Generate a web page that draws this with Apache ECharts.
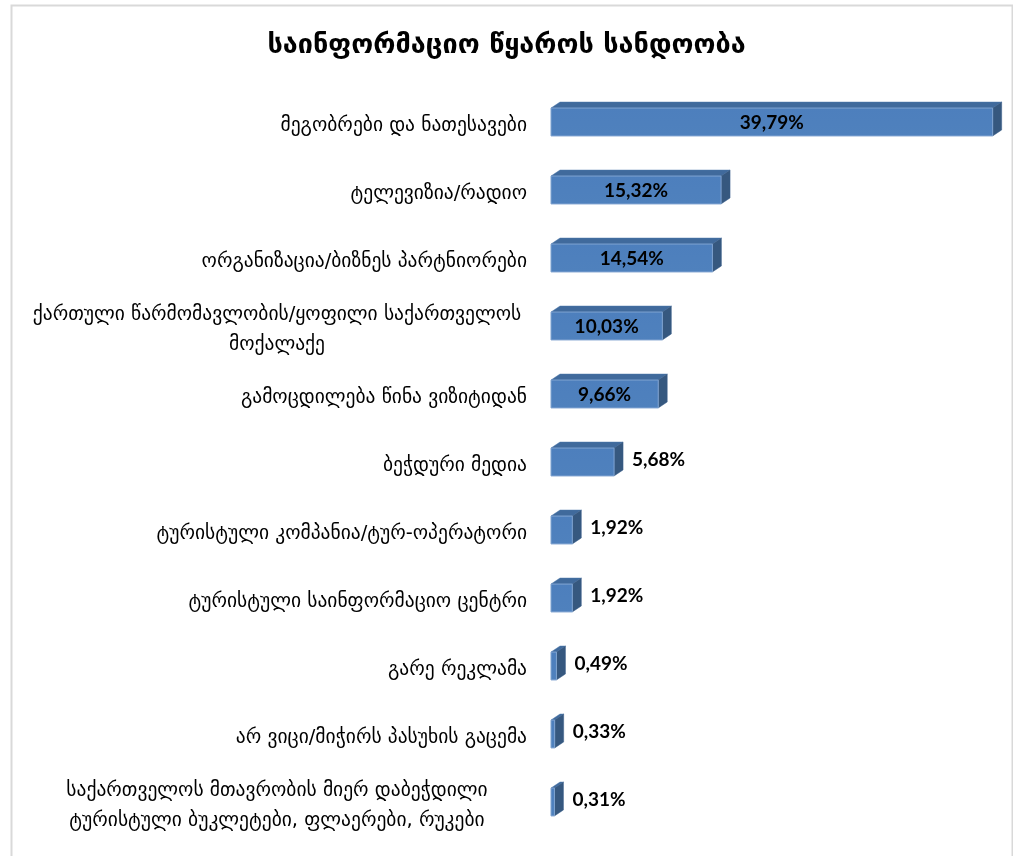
<!DOCTYPE html>
<html>
<head>
<meta charset="utf-8">
<script src="https://cdn.jsdelivr.net/npm/echarts@6/dist/echarts.min.js"></script>
<style>
html,body{margin:0;padding:0;background:#fff;}
#chart{width:1013px;height:856px;}
</style>
</head>
<body>
<div id="chart"></div>
<script>
const titleText = 'საინფორმაციო წყაროს სანდოობა';
const categories = [
  'მეგობრები და ნათესავები',
  'ტელევიზია/რადიო',
  'ორგანიზაცია/ბიზნეს პარტნიორები',
  'ქართული წარმომავლობის/ყოფილი საქართველოს\nმოქალაქე',
  'გამოცდილება წინა ვიზიტიდან',
  'ბეჭდური მედია',
  'ტურისტული კომპანია/ტურ-ოპერატორი',
  'ტურისტული საინფორმაციო ცენტრი',
  'გარე რეკლამა',
  'არ ვიცი/მიჭირს პასუხის გაცემა',
  'საქართველოს მთავრობის მიერ დაბეჭდილი\nტურისტული ბუკლეტები, ფლაერები, რუკები'
];
const values = [39.79, 15.32, 14.54, 10.03, 9.66, 5.68, 1.92, 1.92, 0.49, 0.33, 0.31];

const GEO_FONT = '"DejaVu Sans", sans-serif';
const NUM_FONT = 'Lato, "Open Sans", sans-serif';

const chart = echarts.init(document.getElementById('chart'), null, {renderer: 'canvas'});

const seriesData = values.map((v, i) => [v, i]);

function renderItem(params, api) {
  const v = api.value(0), idx = api.value(1);
  const p0 = api.coord([0, idx]);
  const p1 = api.coord([v, idx]);
  const band = api.size([0, 1])[1];
  const h = band * 0.41;
  const dx = 9, dy = -6;
  const x0 = p0[0], x1 = p1[0];
  const yTop = p0[1] - h / 2 + 3, yBot = yTop + h;
  const children = [
    {type: 'polygon', shape: {points: [[x0, yTop], [x0 + dx, yTop + dy], [x1 + dx, yTop + dy], [x1, yTop]]},
     style: {fill: '#406a9c', stroke: '#4a77ab', lineWidth: 0.5}},
    {type: 'polygon', shape: {points: [[x1, yTop], [x1 + dx, yTop + dy], [x1 + dx, yBot + dy], [x1, yBot]]},
     style: {fill: '#36587f', stroke: '#3a5f8a', lineWidth: 0.5}},
    {type: 'rect', shape: {x: x0, y: yTop, width: x1 - x0, height: h},
     style: {fill: new echarts.graphic.LinearGradient(0, 0, 0, 1, [
       {offset: 0, color: '#4d7fbd'}, {offset: 1, color: '#4f81bd'}]), stroke: '#7fa3d0', lineWidth: 1}}
  ];
  const txt = v.toFixed(2).replace('.', ',') + '%';
  const inside = v > 9;
  children.push({
    type: 'text',
    style: {
      text: txt,
      x: inside ? (x0 + x1) / 2 : x1 + dx + 9,
      y: yTop + h / 2 + (inside ? 1 : -2),
      align: inside ? 'center' : 'left',
      verticalAlign: 'middle',
      fill: '#000',
      font: 'bold 19px ' + NUM_FONT
    }
  });
  return {type: 'group', children: children};
}

const option = {
  backgroundColor: '#ffffff',
  animation: false,
  title: {
    text: titleText,
    left: 'center',
    top: 27,
    textStyle: {fontFamily: GEO_FONT, fontSize: 27, fontWeight: 'bold', color: '#000'}
  },
  grid: {left: 551, right: 18, top: 85, bottom: 23, containLabel: false},
  xAxis: {
    type: 'value', min: 0, max: 40, show: false
  },
  yAxis: {
    type: 'category',
    data: categories,
    inverse: true,
    axisLine: {show: false},
    axisTick: {show: false},
    axisLabel: {
      margin: 24,
      fontFamily: GEO_FONT,
      fontSize: 19.5,
      color: '#000',
      lineHeight: 30,
      padding: [14, 0, 0, 0],
      formatter: function (val) {
        if (val.indexOf('\n') >= 0) {
          return val.split('\n').map(l => '{c|' + l + '}').join('\n');
        }
        return val;
      },
      rich: {
        c: {fontFamily: GEO_FONT, fontSize: 19.5, color: '#000', align: 'center', width: 500, lineHeight: 30}
      }
    }
  },
  series: [{
    type: 'custom',
    renderItem: renderItem,
    data: seriesData,
    encode: {x: 0, y: 1},
    clip: false
  }],
  graphic: [{
    type: 'rect', left: 9, top: 3, z: -1,
    shape: {x: 0, y: 0, width: 1001, height: 870},
    style: {fill: 'none', stroke: '#d9d9d9', lineWidth: 2}
  }]
};
chart.setOption(option);
</script>
</body>
</html>
